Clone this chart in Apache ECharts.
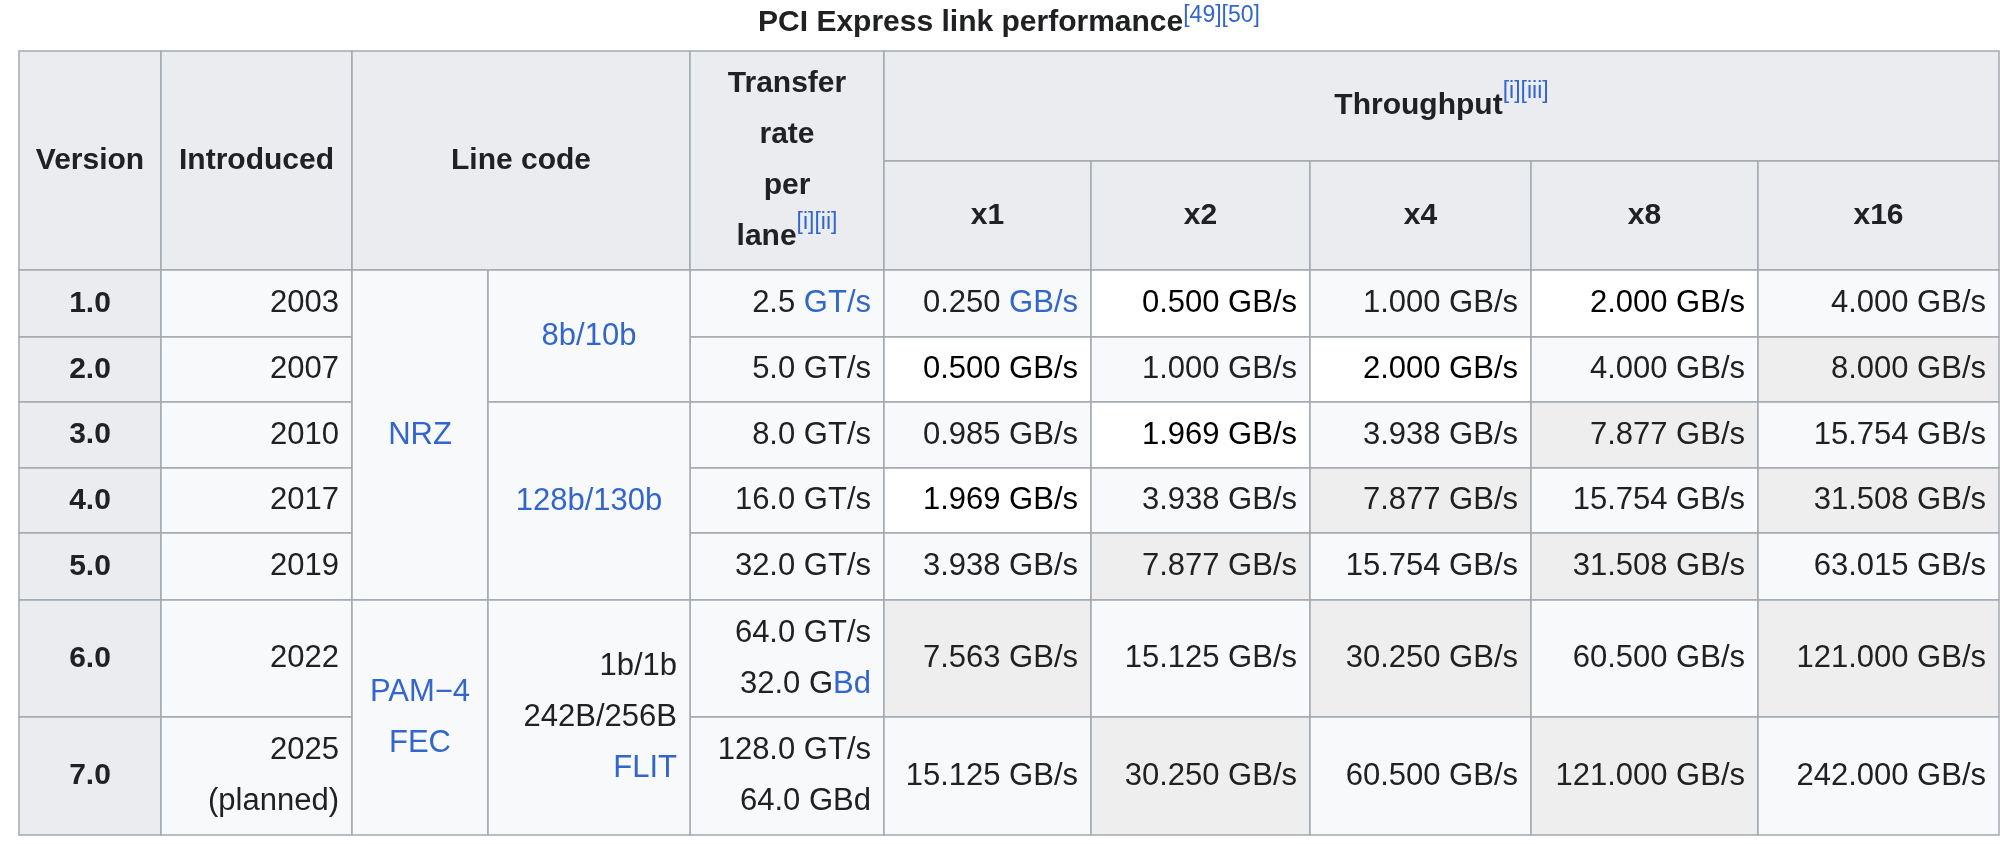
<!DOCTYPE html>
<html>
<head>
<meta charset="utf-8">
<script src="https://cdn.jsdelivr.net/npm/echarts@6/dist/echarts.min.js"></script>
<style>html,body{margin:0;padding:0;background:#fff}#main{width:2014px;height:844px}</style>
</head>
<body>
<div id="main"></div>
<script>
// 数据
var versions = ['1.0', '2.0', '3.0', '4.0', '5.0', '6.0', '7.0'];
var introduced = ['2003', '2007', '2010', '2017', '2019', '2022', '2025\n(planned)'];
var transfer = ['2.5 {a|GT/s}', '5.0 GT/s', '8.0 GT/s', '16.0 GT/s', '32.0 GT/s', '64.0 GT/s\n32.0 G{a|Bd}', '128.0 GT/s\n64.0 GBd'];
var lanes = ['x1', 'x2', 'x4', 'x8', 'x16'];
var x1 = [0.250, 0.500, 0.985, 1.969, 3.938, 7.563, 15.125];
var x2 = [0.500, 1.000, 1.969, 3.938, 7.877, 15.125, 30.250];
var x4 = [1.000, 2.000, 3.938, 7.877, 15.754, 30.250, 60.500];
var x8 = [2.000, 4.000, 7.877, 15.754, 31.508, 60.500, 121.000];
var x16 = [4.000, 8.000, 15.754, 31.508, 63.015, 121.000, 242.000];

// 布局
var colX = [19, 161, 352, 488, 690, 884, 1091, 1310, 1531, 1758, 1999];
var rowY = [51, 161, 270, 337, 402, 468, 533, 600, 717, 835];
var BLUE = '#3366cc', BORDER = '#a2a9b1', HEAD = '#eaecf0', BODY = '#f8f9fa', GRAY = '#eeeeee';
var FONT = '"Liberation Sans", Arial, sans-serif';
var elements = [];

function cell(c0, c1, r0, r1, bg, text, align, bold, color) {
    var x = colX[c0], y = rowY[r0], w = colX[c1] - x, h = rowY[r1] - y;
    elements.push({type: 'rect', shape: {x: x, y: y, width: w, height: h},
        style: {fill: bg, stroke: BORDER, lineWidth: 1.5}});
    if (text === undefined || text === '') return;
    var tx = align == 'right' ? x + w - 13 : (align == 'left' ? x + 13 : x + w / 2);
    var size = bold ? 30 : 31;
    elements.push({type: 'text', z: 10, x: tx, y: y + h / 2, style: {
        text: text, textAlign: align, textVerticalAlign: 'middle',
        font: (bold ? 'bold ' : '') + size + 'px ' + FONT, fill: color || '#202122', lineHeight: 51,
        rich: {
            a: {fill: BLUE, font: size + 'px ' + FONT, lineHeight: 51},
            s: {fill: BLUE, font: '23px ' + FONT, lineHeight: 51, verticalAlign: 'top', padding: [0, 0, 26, 0]}
        }
    }});
}

// 表头
cell(0, 1, 0, 2, HEAD, 'Version', 'center', true);
cell(1, 2, 0, 2, HEAD, 'Introduced', 'center', true);
cell(2, 4, 0, 2, HEAD, 'Line code', 'center', true);
cell(4, 5, 0, 2, HEAD, 'Transfer\nrate\nper\nlane{s|[i][ii]}', 'center', true);
cell(5, 10, 0, 1, HEAD, 'Throughput{s|[i][iii]}', 'center', true);
lanes.forEach(function (l, i) { cell(5 + i, 6 + i, 1, 2, HEAD, l, 'center', true); });

// 行
var cols = [x1, x2, x4, x8, x16];
versions.forEach(function (v, r) {
    cell(0, 1, r + 2, r + 3, HEAD, v, 'center', true);
    cell(1, 2, r + 2, r + 3, BODY, introduced[r], 'right');
    cell(4, 5, r + 2, r + 3, BODY, transfer[r], 'right');
    cols.forEach(function (arr, c) {
        var val = arr[r], k = Math.round(Math.log(val) / Math.LN2);
        var bg = BODY, color = '#202122';
        if (Math.abs(k) % 2 == 1) {
            if (k >= 3) bg = GRAY; else { bg = '#ffffff'; color = '#000'; }
        }
        var t = val.toFixed(3) + (r == 0 && c == 0 ? ' {a|GB/s}' : ' GB/s');
        cell(5 + c, 6 + c, r + 2, r + 3, bg, t, 'right', false, color);
    });
});
// 线路编码合并单元格
cell(2, 3, 2, 7, BODY, '{a|NRZ}', 'center');
cell(3, 4, 2, 4, BODY, '{a|8b/10b}', 'center');
cell(3, 4, 4, 7, BODY, '{a|128b/130b}', 'center');
cell(2, 3, 7, 9, BODY, '{a|PAM−4}\n{a|FEC}', 'center');
cell(3, 4, 7, 9, BODY, '1b/1b\n242B/256B\n{a|FLIT}', 'right');

// 标题
elements.push({type: 'text', x: 1009, y: 23, style: {
    text: 'PCI Express link performance{s|[49][50]}', textAlign: 'center', textVerticalAlign: 'middle',
    font: 'bold 30px ' + FONT, fill: '#202122', lineHeight: 38,
    rich: {s: {fill: BLUE, font: '23px ' + FONT, lineHeight: 38, verticalAlign: 'top', padding: [0, 0, 16, 0]}}
}});

var chart = echarts.init(document.getElementById('main'));
chart.setOption({backgroundColor: '#fff', animation: false, graphic: {elements: elements}});
</script>
</body>
</html>
